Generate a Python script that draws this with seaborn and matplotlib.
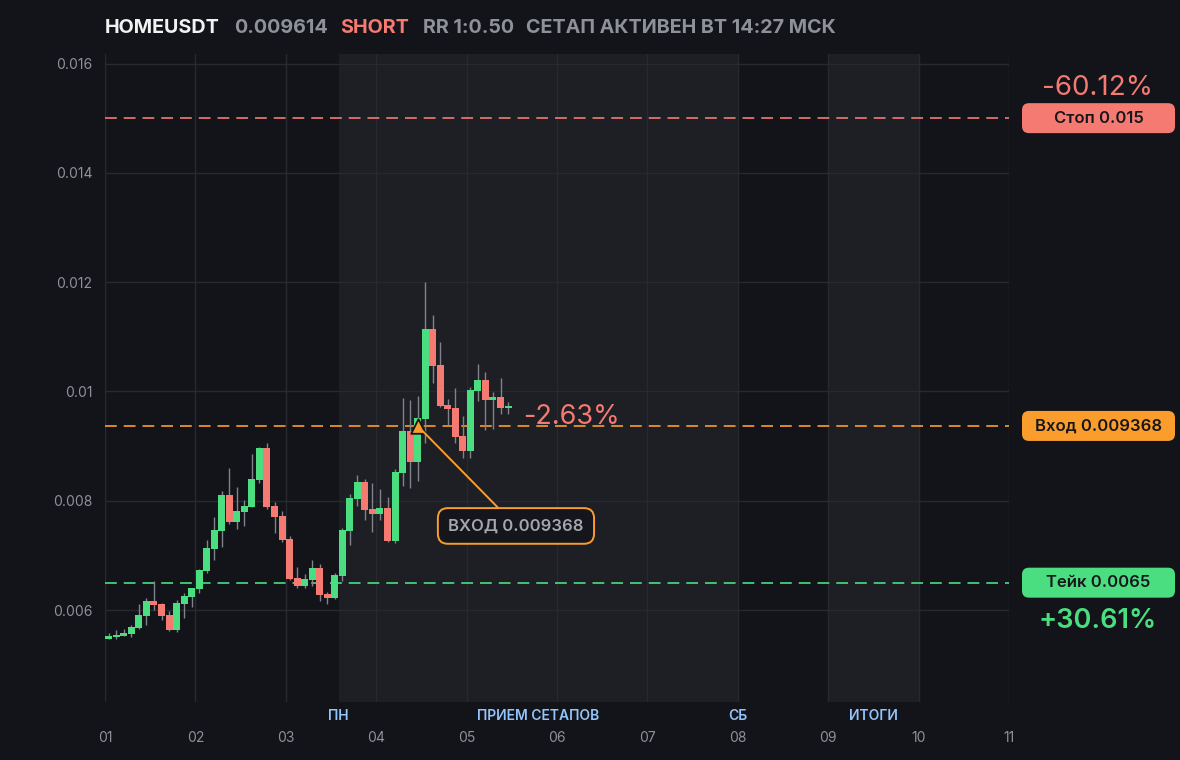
import matplotlib
matplotlib.use("Agg")
import matplotlib.pyplot as plt
import numpy as np
import pandas as pd
import seaborn as sns
from matplotlib.patches import FancyBboxPatch
from matplotlib.transforms import IdentityTransform, blended_transform_factory

# ---------------- data ----------------
opens = [0.005475, 0.005512, 0.005530, 0.005566, 0.005671, 0.005896, 0.006165, 0.006110, 0.005909,
         0.005634, 0.006110, 0.006238, 0.006390, 0.006719, 0.007116, 0.007447, 0.008098, 0.007610,
         0.007800, 0.007890, 0.008380, 0.008964, 0.007900, 0.007720, 0.007299, 0.006586, 0.006439,
         0.006554, 0.006769, 0.006293, 0.006225, 0.006628, 0.007446, 0.008031, 0.008342, 0.007848,
         0.007757, 0.007866, 0.007263, 0.008512, 0.009275, 0.008714, 0.009500, 0.011142, 0.010483,
         0.009751, 0.009702, 0.009189, 0.008915, 0.010013, 0.010209, 0.009848, 0.009897, 0.009702]
highs = [0.005580, 0.005634, 0.005652, 0.005726, 0.006110, 0.006220, 0.006536, 0.006120, 0.005987,
         0.006183, 0.006311, 0.006410, 0.006750, 0.007280, 0.007700, 0.008177, 0.008598, 0.008251,
         0.008013, 0.008855, 0.008980, 0.009056, 0.007976, 0.007812, 0.007354, 0.006792, 0.006659,
         0.006915, 0.006842, 0.006335, 0.006677, 0.007500, 0.008123, 0.008470, 0.008397, 0.008324,
         0.008214, 0.008068, 0.008580, 0.009885, 0.009843, 0.009916, 0.012002, 0.011398, 0.010904,
         0.009861, 0.010062, 0.009550, 0.010086, 0.010501, 0.010355, 0.009995, 0.010245, 0.009811]
lows = [0.005470, 0.005475, 0.005520, 0.005511, 0.005660, 0.005726, 0.006000, 0.005817, 0.005620,
        0.005603, 0.005859, 0.006060, 0.006317, 0.006683, 0.006920, 0.007158, 0.007579, 0.007488,
        0.007543, 0.007880, 0.008324, 0.007854, 0.007414, 0.007250, 0.006554, 0.006408, 0.006408,
        0.006445, 0.006170, 0.006115, 0.006207, 0.006536, 0.007189, 0.007900, 0.007647, 0.007427,
        0.007647, 0.007250, 0.007232, 0.008269, 0.008238, 0.008366, 0.009061, 0.010159, 0.009715,
        0.009385, 0.009061, 0.008787, 0.008787, 0.009824, 0.009299, 0.009317, 0.009592, 0.009592]
closes = [0.005525, 0.005548, 0.005579, 0.005694, 0.005909, 0.006165, 0.006098, 0.005896, 0.005634,
          0.006128, 0.006250, 0.006403, 0.006732, 0.007135, 0.007460, 0.008098, 0.007610, 0.007811,
          0.007900, 0.008400, 0.008964, 0.007890, 0.007707, 0.007286, 0.006573, 0.006439, 0.006567,
          0.006769, 0.006280, 0.006225, 0.006640, 0.007464, 0.008049, 0.008342, 0.007830, 0.007757,
          0.007866, 0.007263, 0.008525, 0.009275, 0.008714, 0.009513, 0.011142, 0.010471, 0.009733,
          0.009683, 0.009171, 0.008915, 0.010031, 0.010209, 0.009848, 0.009897, 0.009702, 0.009738]

first_day = 1.0
candles_per_day = 12
entry_candle_index = 41

day_ticks = [1, 2, 3, 4, 5, 6, 7, 8, 9, 10, 11]
day_labels = ["01", "02", "03", "04", "05", "06", "07", "08", "09", "10", "11"]
ytick_vals = [0.006, 0.008, 0.010, 0.012, 0.014, 0.016]
ytick_labels = ["0.006", "0.008", "0.01", "0.012", "0.014", "0.016"]

session_spans = [(3 + 7 / 12, 8.0), (9.0, 10.0)]
session_labels = ["ПН", "ПРИЕМ СЕТАПОВ", "СБ", "ИТОГИ"]
session_label_x = [3 + 7 / 12, 5.79, 8.0, 9.5]

symbol = "HOMEUSDT"
current_price = 0.009614
side = "SHORT"
rr_text = "RR 1:0.50"
status_text = "СЕТАП АКТИВЕН ВТ 14:27 МСК"

stop_price = 0.015
entry_price = 0.009368
take_price = 0.0065
stop_pct = "-60.12%"
take_pct = "+30.61%"
current_pct = "-2.63%"

# ---------------- style ----------------
BG = "#131419"
SHADE = "#1e1f24"
GRID = "#28292f"
GREEN = "#4ade80"
RED = "#f47a72"
ORANGE = "#fb9d2c"
GREY = "#8e9198"
WICK = "#80838a"
BLUE = "#93c5fd"

sns.set_theme(style="dark", rc={
    "figure.facecolor": BG, "axes.facecolor": BG, "savefig.facecolor": BG,
    "axes.edgecolor": BG, "grid.color": GRID, "lines.scale_dashes": False,
})
plt.rcParams["font.family"] = ["Inter", "DejaVu Sans"]

df = pd.DataFrame({"open": opens, "high": highs, "low": lows, "close": closes})
df["x"] = first_day + (np.arange(len(df)) + 0.5) / candles_per_day
df["up"] = df["close"] >= df["open"]

fig = plt.figure(figsize=(11.8, 7.6), dpi=100)
W, H = 1180, 760
ax = fig.add_axes([105 / W, 1 - 702 / H, 904 / W, 648 / H])

scale = 546.5 / 0.01
ax.set_xlim(1, 11)
ax.set_ylim(0.006 - (702 - 610) / scale, 0.016 + (63.5 - 54) / scale)

for a, b in session_spans:
    ax.axvspan(a, b, color=SHADE, lw=0, zorder=0)

ax.set_xticks(day_ticks, day_labels)
ax.set_yticks(ytick_vals, ytick_labels)
ax.grid(True, color=GRID, lw=1, zorder=1)
ax.set_axisbelow(True)
for s in ax.spines.values():
    s.set_visible(False)
ax.tick_params(axis="x", length=0, pad=21, labelsize=10, labelcolor=GREY)
ax.tick_params(axis="y", length=0, pad=9, labelsize=10, labelcolor=GREY)

# levels
dash = (0, (8.5, 5))
ax.axhline(stop_price, color=RED, lw=1.2, ls=dash, zorder=2)
ax.axhline(entry_price, color=ORANGE, lw=1.2, ls=dash, zorder=2)
ax.axhline(take_price, color=GREEN, lw=1.2, ls=dash, zorder=2)

# candles
width = 0.93 / candles_per_day
ax.vlines(df["x"], df["low"], df["high"], color=WICK, lw=1, zorder=3)
body_low = np.minimum(df["open"], df["close"])
body_h = np.maximum(np.abs(df["close"] - df["open"]), 0.00003)
ax.bar(df["x"], body_h, bottom=body_low, width=width,
       color=np.where(df["up"], GREEN, RED), linewidth=0, zorder=4)

# entry marker
ex = df["x"].iloc[entry_candle_index]
sns.scatterplot(x=[ex], y=[entry_price], marker="^", s=110, color=ORANGE,
                edgecolor="#15161a", linewidth=1.3, ax=ax, zorder=6, legend=False)

ax.annotate("ВХОД 0.009368", xy=(ex, entry_price), xytext=(5.546, 0.007538),
            textcoords="data", ha="center", va="center", fontsize=12,
            fontweight="semibold", color="#a4a7ae", zorder=7,
            bbox=dict(boxstyle="round,pad=0.62,rounding_size=0.6", fc="#15161b",
                      ec=ORANGE, lw=1.4),
            arrowprops=dict(arrowstyle="-", color=ORANGE, lw=1.4, shrinkA=0, shrinkB=5))

ax.text(5.624, 0.00953, current_pct, color=RED, fontsize=19.5, ha="left", va="center", zorder=7)

# session labels under axis
btr = blended_transform_factory(ax.transData, IdentityTransform())
for lx, lab in zip(session_label_x, session_labels):
    ax.text(lx, H - 716, lab, transform=btr, ha="center", va="center",
            fontsize=10, fontweight="semibold", color=BLUE, clip_on=False)

# right side level boxes
fig.canvas.draw()
idt = IdentityTransform()
for price, lab, col in [(stop_price, "Стоп 0.015", RED),
                        (entry_price, "Вход 0.009368", ORANGE),
                        (take_price, "Тейк 0.0065", GREEN)]:
    yd = ax.transData.transform((1, price))[1]
    box = FancyBboxPatch((1022, yd - 15), 153, 30, boxstyle="round,pad=0,rounding_size=7",
                         transform=idt, fc=col, ec="none")
    fig.add_artist(box)
    fig.text(1098.5, yd, lab, transform=idt, ha="center", va="center",
             fontsize=12, fontweight="semibold", color="#16171b")

fig.text(1098, H - 88, stop_pct, transform=idt, ha="center", va="center", fontsize=20, color=RED)
fig.text(1098, H - 621, take_pct, transform=idt, ha="center", va="center", fontsize=19.5,
         fontweight="semibold", color=GREEN)

# header
header = [(105, symbol, "#f2f2f2"), (234, f"{current_price:.6f}", GREY), (340, side, RED),
          (423, rr_text, GREY), (526, status_text, GREY)]
for hx, txt, col in header:
    fig.text(hx, H - 28, txt, transform=idt, ha="left", va="center", fontsize=14.2,
             fontweight="bold", color=col)

fig.savefig("out.png", dpi=100)
